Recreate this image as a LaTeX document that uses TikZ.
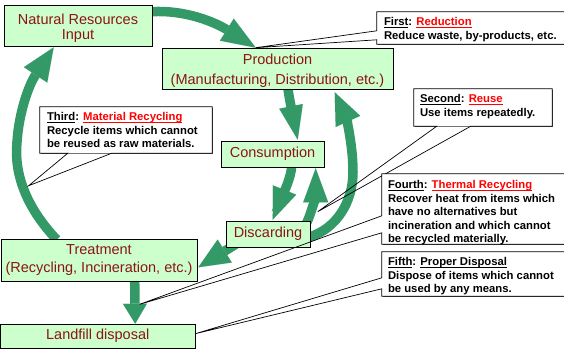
\documentclass[tikz,border=0pt]{standalone}
\usepackage{fontspec}
\setmainfont{Liberation Sans}
\usetikzlibrary{arrows.meta,calc,shadows}
\definecolor{boxgreen}{RGB}{204,255,204}
\definecolor{arrowgreen}{RGB}{51,153,102}
\definecolor{textred}{RGB}{140,20,20}
\newcommand\myul[1]{\setbox0\hbox{#1}\rlap{\rule[-1.7pt]{\wd0}{0.85pt}}\box0}
\pgfdeclarelayer{background}
\pgfsetlayers{background,main}
\begin{document}
\begin{tikzpicture}[x=1pt,y=-1pt,
  gbox/.style={draw=black, line width=0.6pt, fill=boxgreen, text=textred, inner sep=0pt,
    drop shadow={shadow xshift=1.2pt, shadow yshift=-1.2pt, fill=black!55, opacity=1}},
  onel/.style={font=\fontsize{14.5}{15}\selectfont, text height=10.5pt, text depth=3pt},
  multil/.style={font=\fontsize{14.5}{#1}\selectfont},
  cbox/.style={fill=white, inner sep=0pt,
    drop shadow={shadow xshift=1.2pt, shadow yshift=-1.2pt, fill=black!55, opacity=1}},
  cline/.style={draw=black, line width=0.7pt, line join=miter},
  ctext/.style={anchor=north west, inner sep=0pt, font=\fontsize{11.3}{13.5}\selectfont\bfseries},
  garrow/.style={draw=arrowgreen, line width=9.5pt},
  gtip/.style 2 args={-{Triangle[width=#1,length=#2,line width=0.01pt]}}
]
\useasboundingbox (0,0) rectangle (564,352);

% green boxes
\node[gbox, multil=15, minimum width=148pt, minimum height=41pt] (nat) at (78,25.5)
  {\raisebox{-3.4pt}[\height][\depth]{\begin{tabular}{@{}c@{}}Natural Resources\\Input\end{tabular}}};
\node[gbox, multil=20, minimum width=231pt, minimum height=41pt] (prod) at (277.5,68.5)
  {\raisebox{-2.5pt}[\height][\depth]{\begin{tabular}{@{}c@{}}Production\\(Manufacturing, Distribution, etc.)\end{tabular}}};
\node[gbox, onel, minimum width=103pt, minimum height=26pt] (cons) at (272.5,154) {Consumption};
\node[gbox, onel, minimum width=84pt, minimum height=26pt] (disc) at (268,234) {Discarding};
\node[gbox, multil=18, minimum width=196pt, minimum height=42pt] (treat) at (99,260)
  {\begin{tabular}{@{}c@{}}Treatment\\(Recycling, Incineration, etc.)\end{tabular}};
\node[gbox, onel, minimum width=194.5pt, minimum height=24pt] (land) at (97.75,336) {Landfill disposal};

% helper coordinates
\coordinate (tip1) at ($(prod.north west)+(94,0)$);
\coordinate (tip2) at ($(disc.north west)+(92,-9)$);
\coordinate (tip3) at ($(treat.north west)+(28,-53)$);
\coordinate (tip4) at ($(treat.south west)+(139,23)$);
\coordinate (tip5) at ($(land.north east)+(0,10)$);
\coordinate (lw) at (17,142);
\coordinate (rw) at (353,172);

% green arrows
\begin{pgfonlayer}{background}
\draw[garrow, gtip={26pt}{34pt}] ($(nat.north east)+(-1,7)$) .. controls +(35,-2) and +(-40,-25) .. (tip1);
\draw[garrow, gtip={28pt}{33pt}] ($(treat.north west)+(56,1)$) .. controls +(-32,-34) and +(-3,30) .. (lw)
  .. controls +(2,-30) and +(-25,38) .. ($(nat.south west)+(50,1)$);
\draw[garrow, gtip={24pt}{34pt}] ($(prod.south west)+(126,-2)$) .. controls +(2,14) and +(-4,-20) .. ($(cons.north west)+(77,-1)$);
\draw[garrow, gtip={25pt}{32pt}] ($(cons.south west)+(71,-2)$) .. controls +(0,12) and +(8,-20) .. ($(disc.north west)+(47,-1)$);
\draw[garrow, gtip={25pt}{34pt}] ($(disc.north west)+(81,2)$) .. controls +(5,-10) and +(0,25) .. ($(cons.south west)+(95,1)$);
\draw[garrow, gtip={27pt}{32pt}] ($(disc.south east)+(-2,-10)$) .. controls +(28,-8) and +(0,30) .. (rw)
  .. controls +(0,-30) and +(10,22) .. ($(prod.south west)+(173,3)$);
\draw[garrow, gtip={27pt}{31pt}] ($(disc.south west)+(10,-3)$) -- ($(treat.south east)+(1,-14)$);
\draw[garrow, gtip={24pt}{20pt}] ($(treat.south west)+(134,-1)$) -- ($(land.north west)+(135,0)$);
\end{pgfonlayer}

% callout: First
\node[cbox, minimum width=191pt, minimum height=32pt] (first) at (472.5,28) {};
\draw[cline] (first.north west) -- (first.north east) -- (first.south east) -- (first.south west)
  -- ($(first.north west)+(0,28)$) -- (tip1) -- ($(first.north west)+(0,19)$) -- cycle;
\node[ctext] (firstt) at ($(first.north west)+(7,4.5)$)
  {\begin{tabular}{@{}l@{}}\myul{First}: \textcolor{red}{\myul{Reduction}}\\Reduce waste, by-products, etc.\end{tabular}};

% callout: Second
\node[cbox, minimum width=138pt, minimum height=37pt] (second) at (483,107.5) {};
\draw[cline] (second.north west) -- (second.north east) -- (second.south east)
  -- ($(second.south west)+(57,0)$) -- (tip2) -- ($(second.south west)+(23,0)$) -- (second.south west) -- cycle;
\node[ctext] (secondt) at ($(second.north west)+(6,4.5)$)
  {\begin{tabular}{@{}l@{}}\myul{Second}: \textcolor{red}{\myul{Reuse}}\\Use items repeatedly.\end{tabular}};

% callout: Third
\node[cbox, minimum width=172pt, minimum height=46pt] (third) at (126,130) {};
\draw[cline] (third.north west) -- (third.north east) -- (third.south east)
  -- ($(third.south west)+(72,0)$) -- (tip3) -- ($(third.south west)+(28,0)$) -- (third.south west) -- cycle;
\node[ctext] (thirdt) at ($(third.north west)+(7,4.5)$)
  {\begin{tabular}{@{}l@{}}\myul{Third}: \textcolor{red}{\myul{Material Recycling}}\\Recycle items which cannot\\be reused as raw materials.\end{tabular}};

% callout: Fourth
\node[cbox, minimum width=186pt, minimum height=70pt] (fourth) at (475,209) {};
\begin{scope}
\clip (fourth.north west) rectangle (fourth.south east);
\node[ctext] (fourtht) at ($(fourth.north west)+(6,5.5)$)
  {\begin{tabular}{@{}l@{}}\myul{Fourth}: \textcolor{red}{\myul{Thermal Recycling}}\\Recover heat from items which\\have no alternatives but\\incineration and which cannot\\be recycled materially.\end{tabular}};
\end{scope}
\draw[cline] (fourth.north west) -- (fourth.north east) -- (fourth.south east) -- (fourth.south west)
  -- ($(fourth.north west)+(0,59)$) -- (tip4) -- ($(fourth.north west)+(0,42)$) -- cycle;

% callout: Fifth
\node[cbox, minimum width=186pt, minimum height=44pt] (fifth) at (475,274) {};
\draw[cline] (fifth.north west) -- (fifth.north east) -- (fifth.south east) -- (fifth.south west)
  -- ($(fifth.north west)+(0,37)$) -- (tip5) -- ($(fifth.north west)+(0,26)$) -- cycle;
\node[ctext] (fiftht) at ($(fifth.north west)+(6,4.5)$)
  {\begin{tabular}{@{}l@{}}\myul{Fifth}: \myul{Proper Disposal}\\Dispose of items which cannot\\be used by any means.\end{tabular}};
\end{tikzpicture}
\end{document}
